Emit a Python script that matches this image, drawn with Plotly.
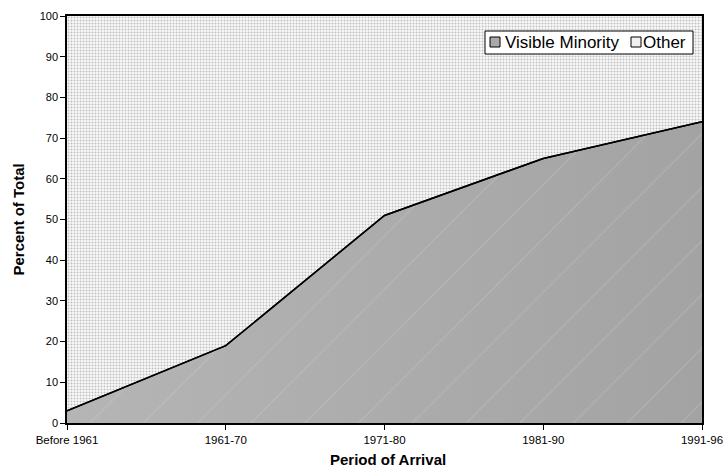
import plotly.graph_objects as go

periods = ["Before 1961", "1961-70", "1971-80", "1981-90", "1991-96"]
visible_minority = [3, 19, 51, 65, 74]
other = [100 - v for v in visible_minority]
y_ticks = [0, 10, 20, 30, 40, 50, 60, 70, 80, 90, 100]
legend_labels = ["Visible Minority", "Other"]

W, H = 724, 470
ML, MR, MT, MB = 67, 22, 16, 47
PW, PH = W - ML - MR, H - MT - MB


def px(x):
    return (x - ML) / PW


def py(y):
    return (H - MB - y) / PH


fig = go.Figure()
fig.add_trace(go.Scatter(
    x=periods, y=visible_minority, name=legend_labels[0],
    stackgroup="one", mode="lines",
    line=dict(color="black", width=1.5),
    fillgradient=dict(type="horizontal",
                      colorscale=[[0, "#b5b5b5"], [1, "#a3a3a3"]]),
))
fig.add_trace(go.Scatter(
    x=periods, y=other, name=legend_labels[1],
    stackgroup="one", mode="lines",
    line=dict(color="rgba(0,0,0,0)", width=0),
    fillpattern=dict(shape=".", fgcolor="#c0c0c0", bgcolor="#fafafa",
                     size=3, solidity=0.35, fillmode="replace"),
))
# faint diagonal texture over the visible-minority area
fig.add_trace(go.Scatter(
    x=periods, y=visible_minority, mode="lines", fill="tozeroy",
    line=dict(color="rgba(0,0,0,0)", width=0),
    fillcolor="rgba(0,0,0,0)",
    fillpattern=dict(shape="/", fgcolor="rgba(220,220,220,0.5)",
                     bgcolor="rgba(0,0,0,0)", size=38, solidity=0.03,
                     fillmode="overlay"),
    hoverinfo="skip", showlegend=False,
))
# boundary line on top
fig.add_trace(go.Scatter(
    x=periods, y=visible_minority, mode="lines",
    line=dict(color="black", width=1.5), hoverinfo="skip", showlegend=False,
))

shapes = [
    dict(type="rect", xref="paper", yref="paper",
         x0=px(485), x1=px(693), y0=py(54), y1=py(31),
         fillcolor="white", line=dict(color="black", width=1)),
    dict(type="rect", xref="paper", yref="paper",
         x0=px(490), x1=px(500), y0=py(47), y1=py(37),
         fillcolor="#a9a9a9", line=dict(color="black", width=1)),
    dict(type="rect", xref="paper", yref="paper",
         x0=px(631), x1=px(641), y0=py(47), y1=py(37),
         fillcolor="#f0f0f0", line=dict(color="black", width=1)),
]
annotations = [
    dict(text=legend_labels[0], xref="paper", yref="paper", x=px(503), y=py(42.5),
         xanchor="left", yanchor="middle", showarrow=False, font=dict(size=17)),
    dict(text=legend_labels[1], xref="paper", yref="paper", x=px(641), y=py(42.5),
         xanchor="left", yanchor="middle", showarrow=False, font=dict(size=17)),
    dict(text="<b>Period of Arrival</b>", xref="paper", yref="paper",
         x=px(388), y=py(460),
         xanchor="center", yanchor="middle", showarrow=False, font=dict(size=15)),
    dict(text="<b>Percent of Total</b>", xref="paper", yref="paper", x=px(18), y=py(219.5),
         xanchor="center", yanchor="middle", showarrow=False, textangle=-90,
         font=dict(size=15)),
]

fig.update_layout(
    width=W, height=H,
    margin=dict(l=ML, r=MR, t=MT, b=MB, autoexpand=False),
    paper_bgcolor="white", plot_bgcolor="white",
    font=dict(family="Liberation Sans, Arial, sans-serif", color="black", size=11),
    showlegend=False,
    shapes=shapes,
    annotations=annotations,
    xaxis=dict(
        type="category", range=[0, len(periods) - 1], automargin=False,
        showline=True, linecolor="black", linewidth=1.5, mirror=True,
        ticks="outside", ticklen=5, tickcolor="black",
        showgrid=False, zeroline=False,
        tickfont=dict(size=11.5),
    ),
    yaxis=dict(
        range=[0, 100], tickvals=y_ticks, automargin=False,
        showline=True, linecolor="black", linewidth=1.5, mirror=True,
        ticks="outside", ticklen=5, tickcolor="black",
        showgrid=False, zeroline=False,
        tickfont=dict(size=11),
    ),
)

fig.write_html("out.html", config={"displayModeBar": False},
               post_script="document.body.style.margin='0';document.body.style.overflow='hidden';")
